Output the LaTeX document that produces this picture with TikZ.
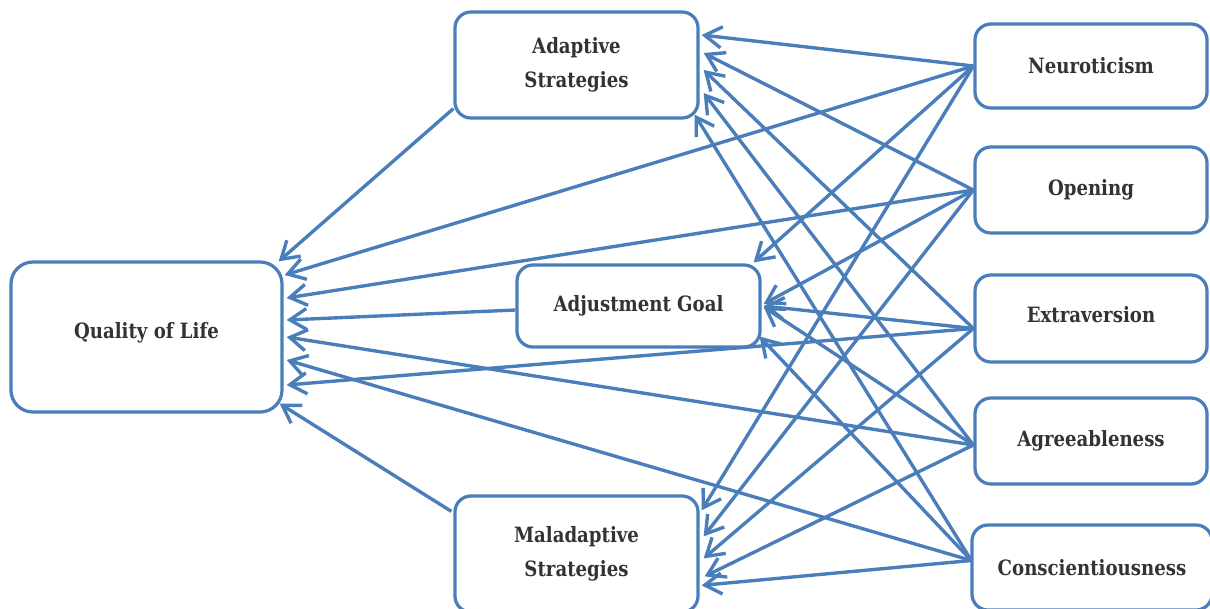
\documentclass[tikz,border=0pt]{standalone}
\usepackage{fontspec}
\setmainfont{DejaVu Serif}[FakeStretch=0.86]
\usetikzlibrary{arrows.meta,calc}
\definecolor{boxblue}{HTML}{4A7EBB}
\definecolor{labelgray}{HTML}{333333}

\begin{document}
\begin{tikzpicture}[x=0.025cm,y=-0.025cm,
  box/.style={draw=boxblue, line width=2.3pt, rounded corners=0.4cm, fill=white,
    align=center, text=labelgray, font=\bfseries\fontsize{15}{24}\selectfont,
    minimum width=6.075cm, inner sep=0pt},
  link/.style={draw=boxblue, line width=2.4pt, -{Straight Barb[length=12pt,width=15pt]}}]

  \useasboundingbox (0,0) rectangle (1210,608);

  % outcome and mediators
  \node[box, minimum width=6.775cm, minimum height=3.75cm, rounded corners=0.55cm, text depth=0.32cm] (qol) at (146.5,337) {Quality of Life};
  \node[box, minimum height=2.65cm] (ada) at (576.5,65) {Adaptive\\Strategies};
  \node[box, minimum height=2.05cm, text depth=0.15cm] (adj) at (638.5,306) {Adjustment Goal};
  \node[box, minimum height=2.9cm] (mal) at (576.5,554) {Maladaptive\\Strategies};

  % personality traits
  \node[box, minimum width=5.8cm, minimum height=2.1cm] (neu) at (1091,66) {Neuroticism};
  \node[box, minimum width=5.8cm, minimum height=2.15cm] (ope) at (1091,190) {Opening};
  \node[box, minimum width=5.8cm, minimum height=2.175cm, text depth=0.2cm] (ext) at (1091,318.5) {Extraversion};
  \node[box, minimum width=5.8cm, minimum height=2.15cm] (agr) at (1091,441) {Agreeableness};
  \node[box, minimum width=6cm, minimum height=2.125cm] (con) at (1092,567.5) {Conscientiousness};

  \coordinate (extP) at ($(ext.west)+(0,10)$);
  \coordinate (agrP) at ($(agr.west)+(0,4)$);
  \coordinate (conP) at ($(con.west)+(1,-7)$);

  % neuroticism
  \draw[link] (neu.west) -- ($(ada.east)+(2,-30)$);
  \draw[link] (neu.west) -- ($(adj.north east)+(-8,-1)$);
  \draw[link] (neu.west) -- ($(mal.north east)+(2,16)$);
  \draw[link] (neu.west) -- ($(qol.east)+(1,-62)$);

  % opening
  \draw[link] (ope.west) -- ($(ada.east)+(4,-12)$);
  \draw[link] (ope.west) -- ($(adj.east)+(2,-2)$);
  \draw[link] (ope.west) -- ($(mal.north east)+(4,42)$);
  \draw[link] (ope.west) -- ($(qol.east)+(3,-39)$);

  % extraversion
  \draw[link] (extP) -- ($(ada.east)+(4,5)$);
  \draw[link] (extP) -- ($(adj.east)+(2,0)$);
  \draw[link] (extP) -- ($(mal.north east)+(4,64)$);
  \draw[link] (extP) -- ($(qol.east)+(3,48)$);

  % agreeableness
  \draw[link] (agrP) -- ($(ada.east)+(4,28)$);
  \draw[link] (agrP) -- ($(adj.east)+(2,1)$);
  \draw[link] (agrP) -- ($(mal.north east)+(5,82)$);
  \draw[link] (agrP) -- ($(qol.east)+(3,0)$);

  % conscientiousness
  \draw[link] (conP) -- ($(ada.south east)+(-5,-5)$);
  \draw[link] (conP) -- ($(adj.south east)+(-2,-12)$);
  \draw[link] (conP) -- ($(mal.north east)+(2,91)$);
  \draw[link] (conP) -- ($(qol.east)+(3,23)$);

  % mediators to quality of life
  \draw[link] ($(ada.south west)+(0,-11)$) -- ($(qol.north east)+(-5,1)$);
  \draw[link] ($(adj.west)+(0,4)$) -- ($(qol.east)+(3,-17)$);
  \draw[link] ($(mal.north west)+(-2,17)$) -- ($(qol.south east)+(-4,-10)$);
\end{tikzpicture}
\end{document}
